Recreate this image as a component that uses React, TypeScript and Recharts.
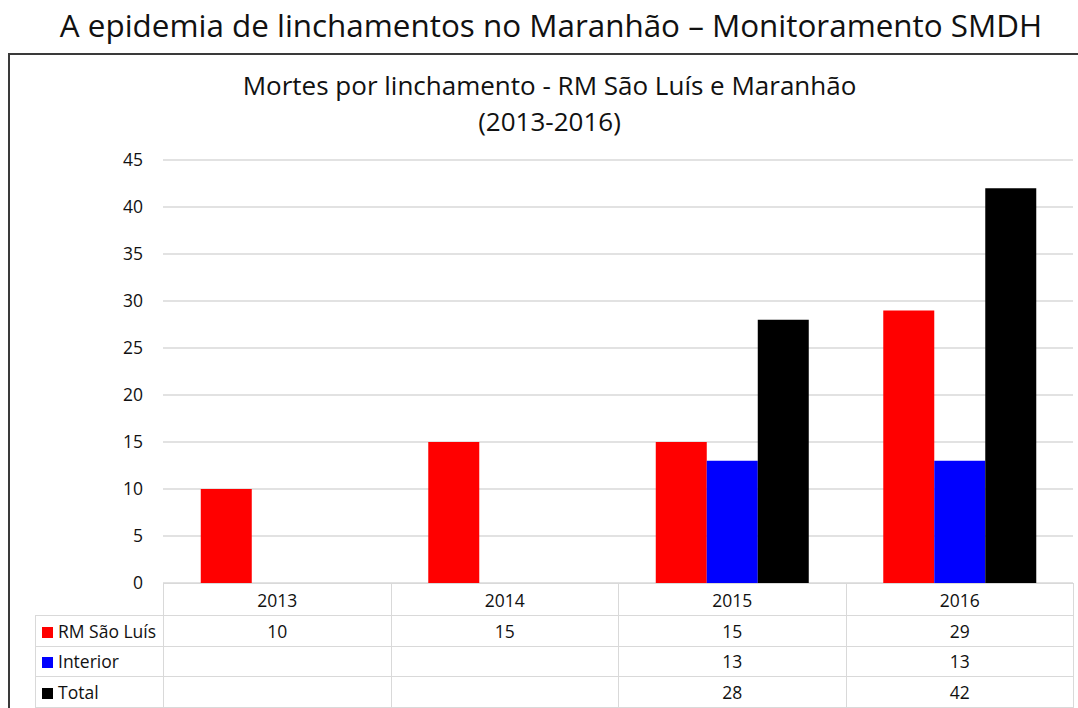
import { BarChart, Bar, YAxis, XAxis, CartesianGrid } from "recharts";

const years = ["2013", "2014", "2015", "2016"];
const rmSaoLuis: (number | null)[] = [10, 15, 15, 29];
const interior: (number | null)[] = [null, null, 13, 13];
const total: (number | null)[] = [null, null, 28, 42];
const yTicks = [0, 5, 10, 15, 20, 25, 30, 35, 40, 45];

const series = [
  { key: "rm", name: "RM São Luís", values: rmSaoLuis, color: "#ff0000" },
  { key: "interior", name: "Interior", values: interior, color: "#0000ff" },
  { key: "total", name: "Total", values: total, color: "#000000" },
];

const data = years.map((year, i) => {
  const row: Record<string, string | number | null> = { year };
  series.forEach((s) => {
    row[s.key] = s.values[i];
  });
  return row;
});

// layout
const W = 1078;
const H = 708;
const PLOT_LEFT = 163;
const PLOT_RIGHT = 1073;
const PLOT_TOP = 160;
const PLOT_BOTTOM = 583;
const TABLE_LEFT = 35;
const HEADER_H = 32;
const ROW_H = 30.5;
const FONT = "'Open Sans', sans-serif";
const TEXT = "#111";
const GRID = "#d9d9d9";

const colW = (PLOT_RIGHT - PLOT_LEFT) / years.length;

const App = () => {
  const cell = {
    border: `1px solid ${GRID}`,
    padding: 0,
    textAlign: "center" as const,
    fontSize: 17.5,
    color: TEXT,
  };

  return (
    <div
      style={{
        position: "absolute",
        left: 0,
        top: 0,
        width: W,
        height: H,
        overflow: "hidden",
        background: "#fff",
        fontFamily: FONT,
      }}
    >
      <div
        style={{
          position: "absolute",
          left: 0,
          top: 5,
          width: 1102,
          textAlign: "center",
          fontSize: 31.4,
          color: TEXT,
          lineHeight: "40px",
          whiteSpace: "nowrap",
        }}
      >
        A epidemia de linchamentos no Maranhão – Monitoramento SMDH
      </div>
      <div
        style={{
          position: "absolute",
          left: 8,
          top: 53,
          width: 1100,
          height: 700,
          border: "2px solid #3a3a3a",
        }}
      />
      <div
        style={{
          position: "absolute",
          left: 0,
          top: 67,
          width: 1099,
          textAlign: "center",
          fontSize: 26,
          color: TEXT,
          lineHeight: "36px",
        }}
      >
        Mortes por linchamento - RM São Luís e Maranhão
        <br />
        (2013-2016)
      </div>

      <div style={{ position: "absolute", left: 0, top: 0 }}>
        <BarChart
          width={W}
          height={H}
          data={data}
          margin={{ top: PLOT_TOP, right: W - PLOT_RIGHT, bottom: H - PLOT_BOTTOM, left: PLOT_LEFT - 60 }}
          barCategoryGap="16.6%"
          barGap={0}
        >
          <CartesianGrid vertical={false} stroke={GRID} strokeWidth={1.3} />
          <XAxis dataKey="year" hide />
          <YAxis
            width={60}
            domain={[0, 45]}
            ticks={yTicks}
            axisLine={false}
            tickLine={false}
            tickSize={0}
            tickMargin={20}
            tick={{ fill: TEXT, fontSize: 17.5, fontFamily: FONT }}
          />
          {series.map((s) => (
            <Bar
              key={s.key}
              dataKey={s.key}
              name={s.name}
              fill={s.color}
              isAnimationActive={false}
            />
          ))}
        </BarChart>
      </div>

      <table
        style={{
          position: "absolute",
          left: TABLE_LEFT,
          top: PLOT_BOTTOM,
          borderCollapse: "collapse",
          tableLayout: "fixed",
          fontFamily: FONT,
        }}
      >
        <colgroup>
          <col style={{ width: PLOT_LEFT - TABLE_LEFT }} />
          {years.map((y) => (
            <col key={y} style={{ width: colW }} />
          ))}
        </colgroup>
        <tbody>
          <tr style={{ height: HEADER_H }}>
            <td style={{ border: "none", padding: 0 }} />
            {years.map((y) => (
              <td key={y} style={cell}>
                {y}
              </td>
            ))}
          </tr>
          {series.map((s) => (
            <tr key={s.key} style={{ height: ROW_H }}>
              <td style={{ ...cell, textAlign: "left", paddingLeft: 6, whiteSpace: "nowrap" }}>
                <span
                  style={{
                    display: "inline-block",
                    width: 11,
                    height: 11,
                    background: s.color,
                    marginRight: 5,
                    verticalAlign: "middle",
                    position: "relative",
                    top: -1,
                  }}
                />
                {s.name}
              </td>
              {s.values.map((v, i) => (
                <td key={i} style={cell}>
                  {v ?? ""}
                </td>
              ))}
            </tr>
          ))}
        </tbody>
      </table>
    </div>
  );
};

export default App;
